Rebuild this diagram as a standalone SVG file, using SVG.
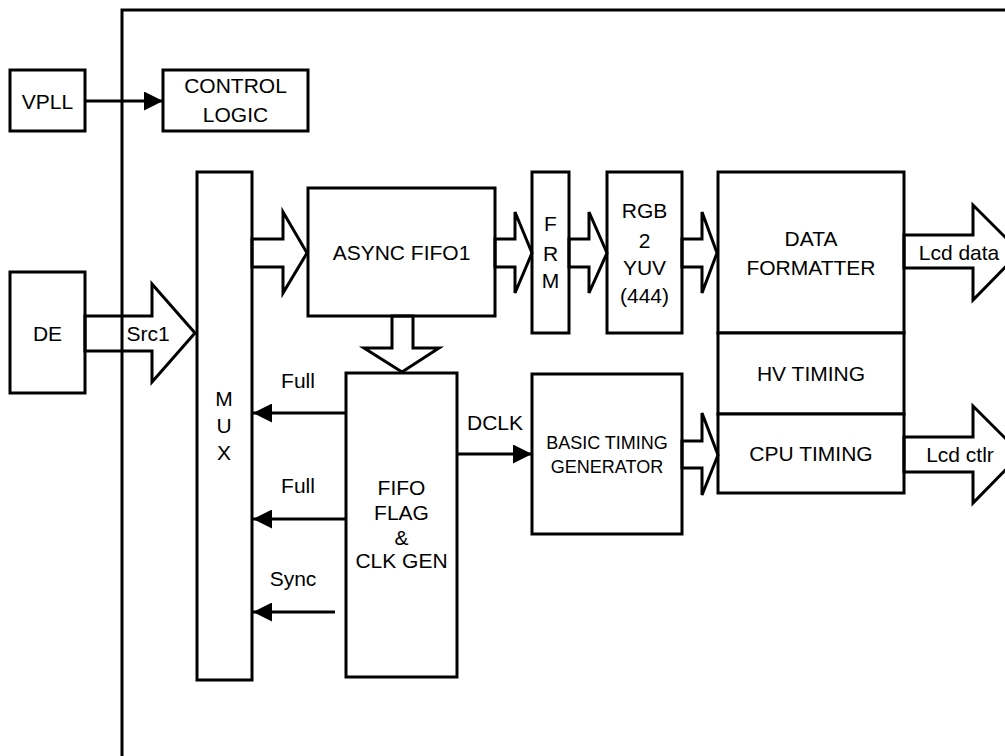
<svg xmlns="http://www.w3.org/2000/svg" width="1005" height="756" viewBox="0 0 1005 756">
<defs>
<style>
.box{fill:#fff;stroke:#000;stroke-width:3;stroke-linejoin:miter}
.big{fill:none;stroke:#000;stroke-width:3;stroke-linejoin:miter}
.wire{fill:none;stroke:#000;stroke-width:3}
text{font-family:"Liberation Sans",Arial,sans-serif;font-size:21px;fill:#000;text-anchor:middle}
.sm{font-size:18px}
</style>
<marker id="ah" markerWidth="19" markerHeight="19" viewBox="0 0 19 19" refX="19" refY="9.5" orient="auto" markerUnits="userSpaceOnUse">
<path d="M0,0 L19,9.5 L0,19 Z" fill="#000"/>
</marker>
</defs>
<rect width="1005" height="756" fill="#fff"/>
<g id="frame">
<path class="wire" d="M122,756 V10 H1005"/>
</g>
<g id="vpll"><rect class="box" x="10" y="70" width="75" height="61"/><text x="47.5" y="108.5">VPLL</text></g>
<g id="control-logic"><rect class="box" x="163" y="70" width="145" height="61"/><text x="235.5" y="93">CONTROL</text><text x="235.5" y="121.5">LOGIC</text></g>
<g id="de"><rect class="box" x="10" y="272" width="75" height="121"/><text x="47.5" y="340.5">DE</text></g>
<g id="mux"><rect class="box" x="197" y="172" width="55" height="508"/><text x="224" y="405.5">M</text><text x="224" y="432.5">U</text><text x="224" y="459.5">X</text></g>
<g id="async-fifo1"><rect class="box" x="308" y="188" width="187" height="128"/><text x="401.5" y="259.5">ASYNC FIFO1</text></g>
<g id="frm"><rect class="box" x="532" y="172" width="37" height="161"/><text x="550.5" y="230.5">F</text><text x="550.5" y="260.5">R</text><text x="550.5" y="287.5">M</text></g>
<g id="rgb2yuv"><rect class="box" x="607" y="172" width="75" height="161"/><text x="644.5" y="217.5">RGB</text><text x="644.5" y="247.5">2</text><text x="644.5" y="274.5">YUV</text><text x="644.5" y="302.5">(444)</text></g>
<g id="data-formatter"><rect class="box" x="718" y="172" width="186" height="161"/><text x="811" y="245.5">DATA</text><text x="811" y="274.5">FORMATTER</text></g>
<g id="hv-timing"><rect class="box" x="718" y="333" width="186" height="81"/><text x="811" y="380.5">HV TIMING</text></g>
<g id="cpu-timing"><rect class="box" x="718" y="414" width="186" height="79"/><text x="811" y="460.5">CPU TIMING</text></g>
<g id="fifo-flag"><rect class="box" x="346" y="373" width="111" height="304"/><text x="401.5" y="494.5">FIFO</text><text x="401.5" y="519.5">FLAG</text><text x="401.5" y="544.5">&amp;</text><text x="401.5" y="567.5">CLK GEN</text></g>
<g id="basic-timing"><rect class="box" x="532" y="374" width="150" height="160"/><text class="sm" x="607" y="448.5">BASIC TIMING</text><text class="sm" x="607" y="472.5">GENERATOR</text></g>
<g id="connectors">
<path class="wire" d="M85,101 H163" marker-end="url(#ah)"/>
<polygon class="big" points="85,316 152,316 152,284 195,333 152,382 152,351 85,351"/>
<polygon class="big" points="252,239 283,239 283,212 307,253 283,293 283,267 252,267"/>
<polygon class="big" points="495,239 515,239 515,212 532,253 515,293 515,267 495,267"/>
<polygon class="big" points="569,239 589,239 589,212 607,253 589,293 589,267 569,267"/>
<polygon class="big" points="682,239 702,239 702,212 717,253 702,293 702,267 682,267"/>
<polygon class="big" points="392,316 413,316 413,348 439,348 402,372 364,348 392,348"/>
<polygon class="big" points="904,235 973,235 973,205 1020,252 973,300 973,268 904,268"/>
<polygon class="big" points="682,441 702,441 702,413 718,455 702,495 702,468 682,468"/>
<polygon class="big" points="904,437 973,437 973,406 1021,454 973,503 973,472 904,472"/>
<path class="wire" d="M457,454 H532" marker-end="url(#ah)"/>
<path class="wire" d="M346,413 H253" marker-end="url(#ah)"/>
<path class="wire" d="M346,519 H253" marker-end="url(#ah)"/>
<path class="wire" d="M335,612 H253" marker-end="url(#ah)"/>
<text x="148" y="340.5">Src1</text>
<text x="959" y="259.5">Lcd data</text>
<text x="960" y="461.5">Lcd ctlr</text>
<text x="495" y="429.5">DCLK</text>
<text x="298" y="387.5">Full</text>
<text x="298" y="492.5">Full</text>
<text x="293" y="585.5">Sync</text>
</g>
</svg>
